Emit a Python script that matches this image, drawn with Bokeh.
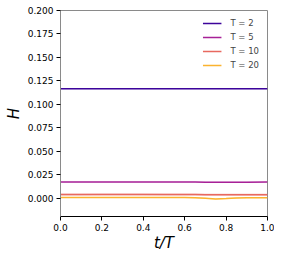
from bokeh.plotting import figure
from bokeh.models import Range1d, FixedTicker, Legend, LegendItem
from bokeh.embed import file_html
from bokeh.resources import INLINE

t = [0.0, 0.1, 0.2, 0.3, 0.4, 0.5, 0.6, 0.65, 0.7, 0.75, 0.8, 0.85, 0.9, 1.0]
h_T2 = [0.1167, 0.1167, 0.1167, 0.1166, 0.1166, 0.1166, 0.1166, 0.1166, 0.1166, 0.1166, 0.1166, 0.1166, 0.1166, 0.1167]
h_T5 = [0.0172, 0.0172, 0.0172, 0.0172, 0.0172, 0.0172, 0.0172, 0.0172, 0.0171, 0.0171, 0.0171, 0.0171, 0.0171, 0.0172]
h_T10 = [0.0039, 0.0039, 0.0040, 0.0040, 0.0040, 0.0039, 0.0039, 0.0039, 0.0038, 0.0038, 0.0037, 0.0037, 0.0037, 0.0038]
h_T20 = [0.0007, 0.0007, 0.0007, 0.0007, 0.0008, 0.0008, 0.0007, 0.0005, 0.0000, -0.0008, -0.0004, 0.0003, 0.0005, 0.0006]
band = [0.0006, 0.0003, 0.0012, 0.0006]
labels = ["T = 2", "T = 5", "T = 10", "T = 20"]
colors = ["#3d049b", "#a72197", "#e8695f", "#fbb32f"]
x_ticks = [0.0, 0.2, 0.4, 0.6, 0.8, 1.0]
y_ticks = [0.0, 0.025, 0.05, 0.075, 0.1, 0.125, 0.15, 0.175, 0.2]

p = figure(output_backend="svg", toolbar_location=None,
           x_range=Range1d(0, 1), y_range=Range1d(-0.0195, 0.2),
           frame_width=207, frame_height=206,
           min_border_left=60, min_border_top=10, min_border_right=7, min_border_bottom=30)
p.grid.visible = False
p.background_fill_color = "white"
p.outline_line_color = "#8a8a8a"
p.outline_line_width = 1

font = "DejaVu Sans"
for ax in (p.xaxis[0], p.yaxis[0]):
    ax.major_tick_out = 4
    ax.major_tick_in = 0
    ax.minor_tick_out = 0
    ax.minor_tick_in = 0
    ax.major_label_text_font = font
    ax.major_label_text_font_size = "9px"
    ax.major_label_text_color = "black"
    ax.axis_label_text_font = font
    ax.axis_label_text_font_size = "15px"
    ax.axis_label_text_font_style = "italic"
    ax.axis_label_text_color = "black"
    ax.major_label_standoff = 3

p.xaxis[0].axis_line_color = "black"
p.xaxis[0].major_tick_line_color = "black"
p.yaxis[0].axis_line_color = "#8a8a8a"
p.yaxis[0].major_tick_line_color = "black"
p.xaxis[0].ticker = FixedTicker(ticks=x_ticks)
p.yaxis[0].ticker = FixedTicker(ticks=y_ticks)
p.xaxis[0].major_label_overrides = {v: f"{v:.1f}" for v in x_ticks}
p.yaxis[0].major_label_overrides = {v: f"{v:.3f}" for v in y_ticks}
p.xaxis[0].axis_label = "t/T"
p.yaxis[0].axis_label = "H"
p.xaxis[0].axis_label_standoff = 0
p.yaxis[0].axis_label_standoff = 2

items = []
for ys, c, lab, b in zip([h_T2, h_T5, h_T10, h_T20], colors, labels, band):
    p.varea(x=t, y1=[y - b for y in ys], y2=[y + b for y in ys], fill_color=c, fill_alpha=0.25)
    r = p.line(t, ys, line_color=c, line_width=1.5)
    items.append(LegendItem(label=lab, renderers=[r]))

legend = Legend(items=items, location="top_right", border_line_color=None,
                background_fill_alpha=0, label_text_font=font, label_text_font_size="8.5px",
                glyph_width=19, glyph_height=10, label_height=10,
                spacing=4, padding=2, margin=8, label_standoff=9)
p.add_layout(legend)

open("out.html", "w").write(file_html(p, INLINE))
